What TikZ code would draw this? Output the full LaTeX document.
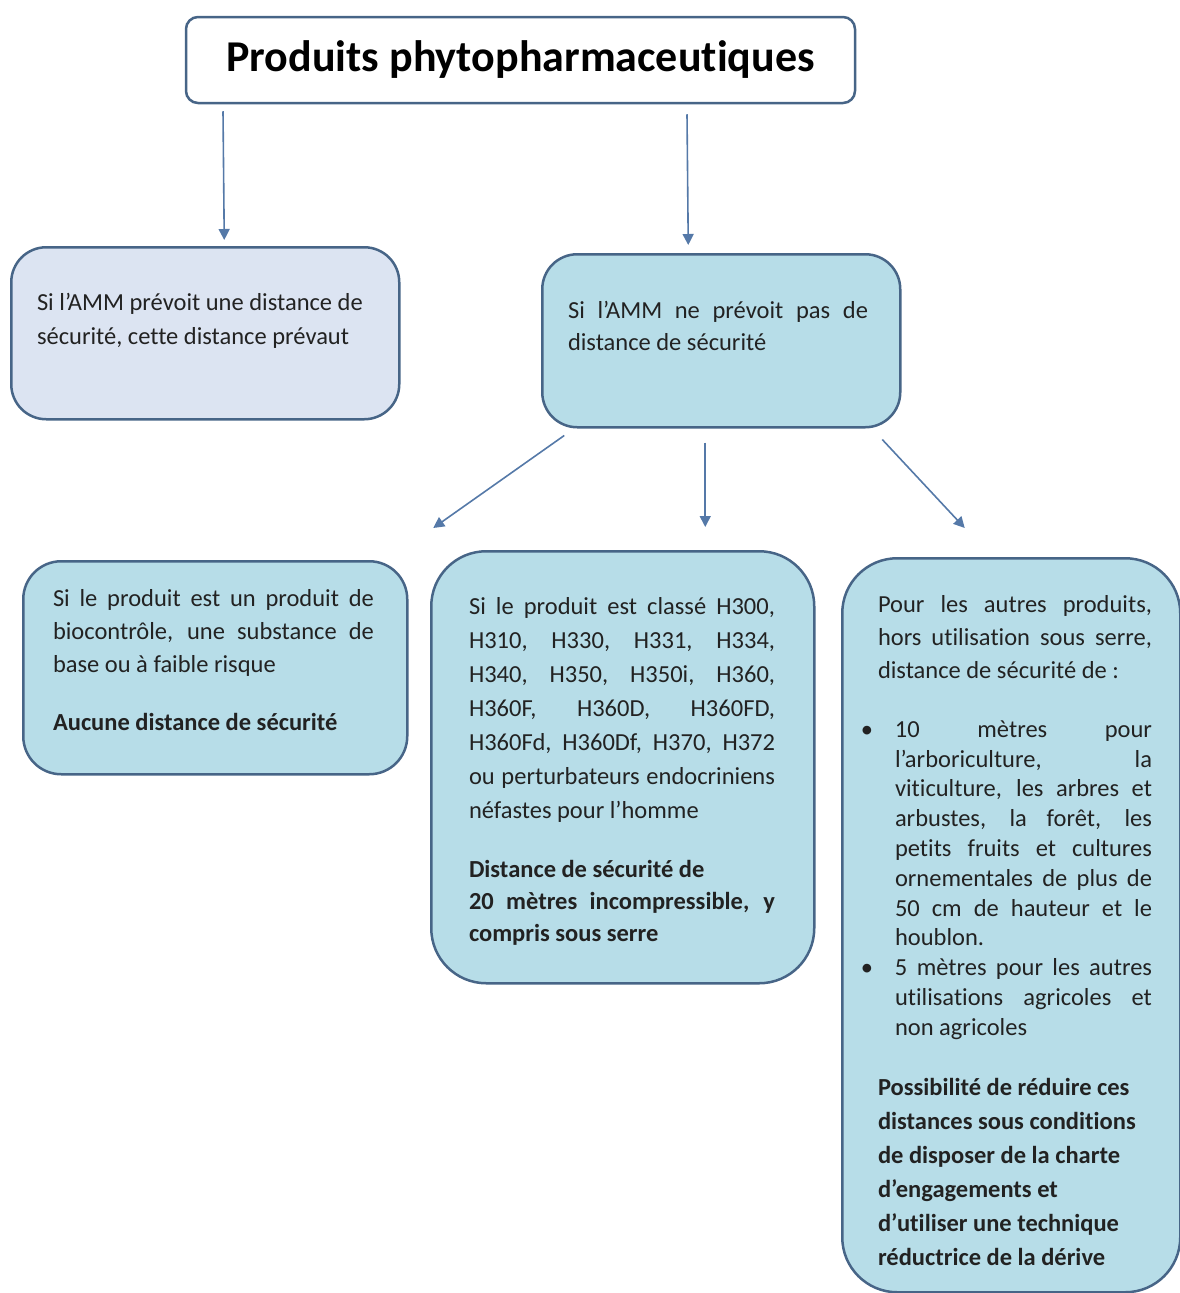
\documentclass[tikz,border=0pt]{standalone}
\usepackage{fontspec}
\setmainfont{Carlito}[Ligatures=NoCommon]
\usetikzlibrary{arrows.meta,calc}
\definecolor{bordc}{HTML}{476587}
\definecolor{fillb}{HTML}{B7DDE8}
\definecolor{filll}{HTML}{DCE4F2}
\definecolor{arrc}{HTML}{5579A8}
\definecolor{txtc}{HTML}{222222}
\setlength{\parindent}{0pt}
\hyphenpenalty=10000
\exhyphenpenalty=10000
\tolerance=10000
\newcommand\topstrut{\rule{0pt}{20pt}}
\newcommand\bodysz[1]{\fontsize{24.5}{#1}\selectfont}
\newcommand\bulletmark{\leavevmode\llap{•\hspace{22pt}}}
\tikzset{
  box/.style={draw=bordc, line width=2.5pt, rounded corners=#1, anchor=north west, inner sep=0pt},
  txt/.style={anchor=north west, inner sep=0pt, outer sep=0pt, text width=#1, align=justify, text=txtc},
  arr/.style={draw=arrc, line width=1.6pt, -{Triangle[length=11pt,width=11pt]}},
}
\begin{document}
\begin{tikzpicture}[x=1pt,y=-1pt]
\useasboundingbox (0,0) rectangle (1180,1293);
% boxes
\node[box=12pt, fill=white, anchor=center, minimum width=669pt, minimum height=86pt,
      font=\fontsize{44}{50}\selectfont\bfseries, text=black] (title) at (520.5,60) {Produits phytopharmaceutiques};
\node[box=35pt, fill=filll, minimum width=388pt, minimum height=172pt] (l1) at (10,246) {};
\node[box=35pt, fill=fillb, minimum width=358pt, minimum height=173pt] (r1) at (541,253) {};
\node[box=38pt, fill=fillb, minimum width=384pt, minimum height=213pt] (b1) at (22,560) {};
\node[box=55pt, fill=fillb, minimum width=383pt, minimum height=432pt] (b2) at (430,550) {};
\node[box=55pt, fill=fillb, minimum width=338pt, minimum height=734pt] (b3) at (841,557) {};
% texts
\node[txt=340pt] (t1) at (37,290) {\bodysz{34}\topstrut Si l’AMM prévoit une distance de\\sécurité, cette distance prévaut\par};
\node[txt=300pt] (t2) at (568,298.5) {\bodysz{32}\topstrut Si l’AMM ne prévoit pas de\linebreak distance de sécurité\par};
\node[txt=321pt] (t3) at (53,586.5) {\bodysz{33}\topstrut Si le produit est un produit de\linebreak biocontrôle, une substance de\linebreak base ou à faible risque\par
  \vspace{25pt}\textbf{Aucune distance de sécurité}\par};
\node[txt=306pt] (t4) at (469,594) {\bodysz{34}\topstrut Si le produit est classé H300,\linebreak H310, H330, H331, H334,\linebreak H340, H350, H350i, H360,\linebreak H360F, H360D, H360FD,\linebreak H360Fd, H360Df, H370, H372\linebreak ou perturbateurs endocriniens\linebreak néfastes pour l’homme\par
  \bodysz{32}\vspace{27pt}\bfseries Distance de sécurité de\\20 mètres incompressible, y\linebreak compris sous serre\par};
\node[txt=274pt] (t5) at (878,592.5) {\bodysz{33}\topstrut Pour les autres produits,\linebreak hors utilisation sous serre,\linebreak distance de sécurité de :\par
  \bodysz{29.8}\vspace{29pt}{\leftskip=17pt
  \bulletmark 10 mètres pour\linebreak l’arboriculture, la\linebreak viticulture, les arbres et\linebreak arbustes, la forêt, les\linebreak petits fruits et cultures\linebreak ornementales de plus de\linebreak 50 cm de hauteur et le\linebreak houblon.\par
  \bulletmark 5 mètres pour les autres\linebreak utilisations agricoles et\linebreak non agricoles\par}
  \bodysz{34}\vspace{26pt}{\raggedright\bfseries Possibilité de réduire ces\\distances sous conditions\\de disposer de la charte\\d’engagements et\\d’utiliser une technique\\réductrice de la dérive\par}};
% arrows
\draw[arr] ([xshift=-297.5pt,yshift=-7pt]title.south) -- ([xshift=19pt,yshift=6pt]l1.north);
\draw[arr] ([xshift=166.5pt,yshift=-10pt]title.south) -- ([xshift=-33pt,yshift=8pt]r1.north);
\draw[arr] ([xshift=-157pt,yshift=-7pt]r1.south) -- ([xshift=218pt,yshift=32pt]b1.north);
\draw[arr] ([xshift=-16pt,yshift=-14pt]r1.south) -- ([xshift=82.5pt,yshift=23pt]b2.north);
\draw[arr] ([xshift=161pt,yshift=-11pt]r1.south) -- ([xshift=-46.5pt,yshift=29pt]b3.north);
\end{tikzpicture}
\end{document}
